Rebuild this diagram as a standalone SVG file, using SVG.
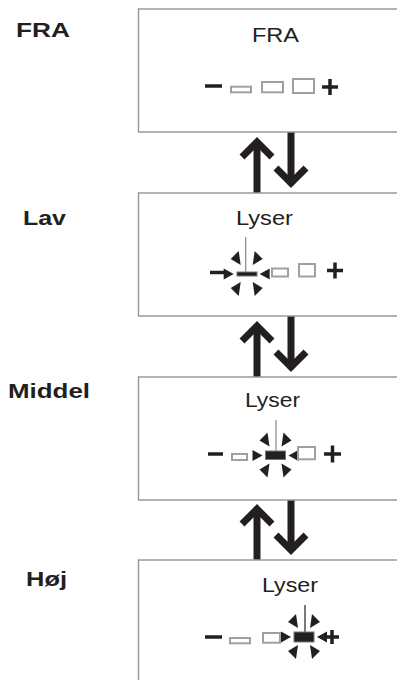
<svg xmlns="http://www.w3.org/2000/svg" xmlns:xlink="http://www.w3.org/1999/xlink" width="397" height="680" viewBox="0 0 397 680">
<style>
.box{fill:#fff;stroke:#9a9a9a;stroke-width:1.5}
.lbl{font-family:"Liberation Sans",Arial,sans-serif;font-weight:bold;font-size:21px;fill:#231f20}
.txt{font-family:"Liberation Sans",Arial,sans-serif;font-size:21px;fill:#231f20}
.seg{fill:#fff;stroke:#a0a0a0;stroke-width:2}
.lit{fill:#231f20;stroke:#777;stroke-width:1}
.sym{stroke:#231f20;stroke-width:3.5;fill:none}
.arr{stroke:#231f20;stroke-width:7;fill:none;stroke-linejoin:miter;stroke-miterlimit:10}
.tri{fill:#231f20}
</style>
<defs>
<g id="flash">
<polygon class="tri" points="-6,-9 -16,-15 -8,-23"/>
<polygon class="tri" points="6,-9 16,-15 8,-23"/>
<polygon class="tri" points="-6,8 -16,14 -8,22"/>
<polygon class="tri" points="6,8 16,14 8,22"/>
<polygon class="tri" points="-13,0 -23,-5.5 -23,5.5"/>
<polygon class="tri" points="13,0 23,-5.5 23,5.5"/>
</g>
<g id="updown">
<line class="arr" x1="257" y1="193" x2="257" y2="143"/>
<polyline class="arr" points="242,157 257,142 272,157"/>
<line class="arr" x1="291" y1="132" x2="291" y2="183"/>
<polyline class="arr" points="276,168 291,183 306,168"/>
</g>
</defs>

<g id="labels">
<text class="lbl" x="16" y="37" textLength="54" lengthAdjust="spacingAndGlyphs">FRA</text>
<text class="lbl" x="23" y="225" textLength="43" lengthAdjust="spacingAndGlyphs">Lav</text>
<text class="lbl" x="8" y="398" textLength="82" lengthAdjust="spacingAndGlyphs">Middel</text>
<text class="lbl" x="26" y="586" textLength="41" lengthAdjust="spacingAndGlyphs">Høj</text>
</g>

<g id="connectors">
<use xlink:href="#updown"/>
<use xlink:href="#updown" transform="translate(0,184)"/>
<use xlink:href="#updown" transform="translate(0,367)"/>
</g>

<g id="box-fra">
<rect class="box" x="138.5" y="9" width="300" height="123"/>
<text class="txt" x="252" y="42" textLength="47" lengthAdjust="spacingAndGlyphs">FRA</text>
<line class="sym" x1="205" y1="86" x2="222" y2="86"/>
<rect class="seg" x="231" y="86.7" width="20" height="5.6"/>
<rect class="seg" x="262" y="82" width="21" height="10.3"/>
<rect class="seg" x="293" y="79" width="21" height="14"/>
<line class="sym" x1="322" y1="87" x2="338" y2="87"/>
<line class="sym" x1="330" y1="79" x2="330" y2="95"/>
</g>

<g id="box-lav">
<rect class="box" x="138.5" y="193" width="300" height="123"/>
<text class="txt" x="236" y="225" textLength="57" lengthAdjust="spacingAndGlyphs">Lyser</text>
<line x1="245.7" y1="237" x2="245.7" y2="272" stroke="#888" stroke-width="1.2"/>
<line class="sym" x1="210" y1="272.5" x2="224" y2="272.5"/>
<rect class="lit" x="237" y="272" width="20" height="4"/>
<use xlink:href="#flash" transform="translate(246.7,274)"/>
<rect class="seg" x="272" y="268.5" width="16" height="8"/>
<rect class="seg" x="299" y="264" width="16" height="12.5"/>
<line class="sym" x1="327" y1="270.5" x2="343" y2="270.5"/>
<line class="sym" x1="335" y1="262.5" x2="335" y2="278.5"/>
</g>

<g id="box-middel">
<rect class="box" x="138.5" y="377" width="300" height="123"/>
<text class="txt" x="245" y="407" textLength="55" lengthAdjust="spacingAndGlyphs">Lyser</text>
<line x1="276" y1="420" x2="276" y2="451" stroke="#888" stroke-width="1.2"/>
<line class="sym" x1="208" y1="454" x2="223" y2="454"/>
<rect class="seg" x="232" y="454" width="15" height="6"/>
<rect class="lit" x="265.5" y="451" width="20" height="8.5"/>
<use xlink:href="#flash" transform="translate(275.5,455.5)"/>
<rect class="seg" x="298" y="447" width="17" height="12.3"/>
<line class="sym" x1="324" y1="454" x2="341" y2="454"/>
<line class="sym" x1="332.5" y1="445.5" x2="332.5" y2="462.5"/>
</g>

<g id="box-hoj">
<rect class="box" x="138.5" y="560" width="300" height="200"/>
<text class="txt" x="262" y="592" textLength="56" lengthAdjust="spacingAndGlyphs">Lyser</text>
<line x1="305" y1="605" x2="305" y2="632" stroke="#231f20" stroke-width="1.2"/>
<line class="sym" x1="205" y1="637" x2="222" y2="637"/>
<rect class="seg" x="230" y="638" width="20" height="5.3"/>
<rect class="seg" x="263" y="633" width="17" height="9.7"/>
<rect class="lit" x="294" y="632" width="20" height="10"/>
<use xlink:href="#flash" transform="translate(304,637)"/>
<line class="sym" x1="325" y1="637" x2="339" y2="637"/>
<line class="sym" x1="332" y1="630" x2="332" y2="644"/>
</g>
</svg>
